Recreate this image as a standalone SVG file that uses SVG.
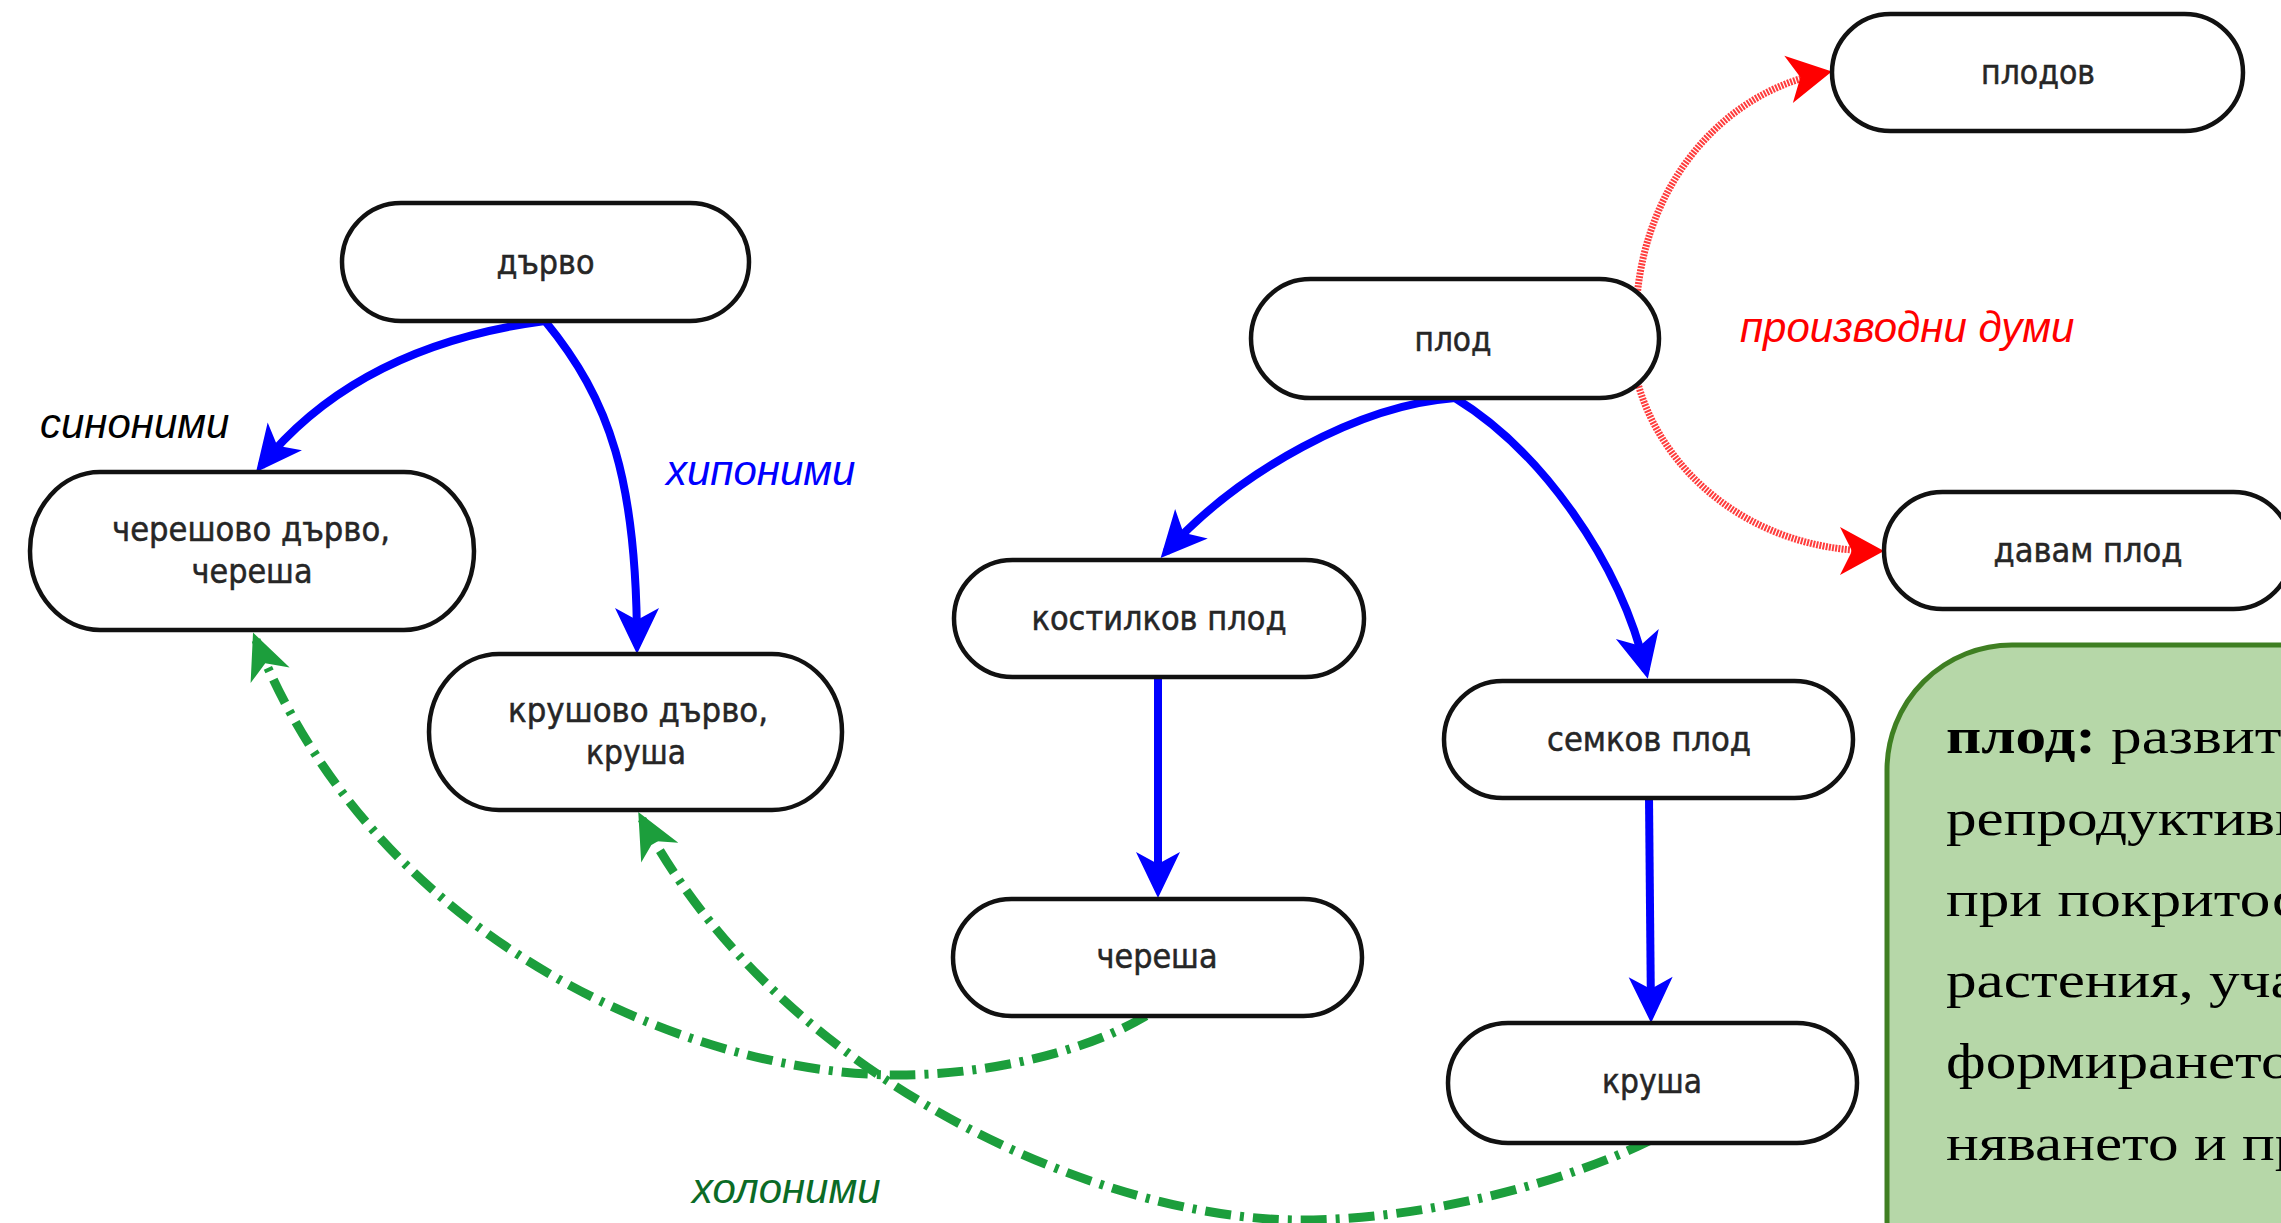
<svg xmlns="http://www.w3.org/2000/svg" width="2281" height="1223" viewBox="0 0 2281 1223">
<style>
.node rect{fill:#fff;stroke:#111;stroke-width:4.5}
.node text{font-family:"DejaVu Sans Condensed","DejaVu Sans",sans-serif;font-stretch:condensed;font-size:34px;fill:#262626;stroke:#262626;stroke-width:0.5;text-anchor:middle}
.blue{fill:none;stroke:#0000ff;stroke-width:8;marker-end:url(#mb)}
.red{fill:none;stroke:#ff3c3c;stroke-width:7;stroke-dasharray:2 1.2;marker-end:url(#mr)}
.green{fill:none;stroke:#1c9e3c;stroke-width:9;stroke-dasharray:26 9 4 9;marker-end:url(#mg)}
.lbl{font-family:"Liberation Sans",Arial,sans-serif;font-style:italic;font-size:42px}
.def{font-family:"Liberation Serif","Times New Roman",serif;font-size:51px;fill:#000}
</style>
<defs>
<marker id="mb" markerUnits="userSpaceOnUse" viewBox="-50 -30 60 60" markerWidth="60" markerHeight="60" refX="-8" refY="0" orient="auto"><path d="M0,0 L-46,-22 L-34,0 L-46,22 Z" fill="#0000ff"/></marker>
<marker id="mr" markerUnits="userSpaceOnUse" viewBox="-50 -30 60 60" markerWidth="60" markerHeight="60" refX="-8" refY="0" orient="auto"><path d="M0,0 L-44,-24 L-32,0 L-44,24 Z" fill="#ff0000"/></marker>
<marker id="mg" markerUnits="userSpaceOnUse" viewBox="-50 -30 60 60" markerWidth="60" markerHeight="60" refX="-8" refY="0" orient="auto"><path d="M0,0 L-46,-21 L-33,0 L-46,21 Z" fill="#1c9e3c"/></marker>
</defs>
<rect width="2281" height="1223" fill="#fff"/>

<g id="connectors">
<path class="blue" d="M545,321 C440,335 335,374 261,466"/>
<path class="blue" d="M545,321 C610,400 637,480 637,646"/>
<path class="blue" d="M1455,398 C1360,405 1240,470 1166,552"/>
<path class="blue" d="M1455,398 C1540,450 1620,560 1646,671"/>
<path class="blue" d="M1158,677 L1158,890"/>
<path class="blue" d="M1649,798 L1651,1015"/>
<path class="red" d="M1637,297 C1648,175 1730,90 1824,73"/>
<path class="red" d="M1637,380 C1660,470 1750,551 1876,551"/>
<path class="green" d="M1146,1016 C1080,1055 980,1075 898,1075 C700,1075 380,950 256,640"/>
<path class="green" d="M1651,1140 C1560,1185 1420,1220 1300,1220 C1100,1220 780,1080 642,819"/>
</g>

<g id="node-darvo" class="node"><rect x="342" y="203" width="407" height="118" rx="59"/><text x="545.5" y="274" textLength="98" lengthAdjust="spacingAndGlyphs">дърво</text></g>
<g id="node-chereshovo" class="node"><rect x="30" y="472" width="444" height="158" rx="70" ry="79"/><text x="251" y="541" textLength="278" lengthAdjust="spacingAndGlyphs">черешово дърво,</text><text x="252" y="583" textLength="121" lengthAdjust="spacingAndGlyphs">череша</text></g>
<g id="node-krushovo" class="node"><rect x="429" y="654" width="413" height="156" rx="70" ry="78"/><text x="638" y="722" textLength="260" lengthAdjust="spacingAndGlyphs">крушово дърво,</text><text x="636" y="764" textLength="100" lengthAdjust="spacingAndGlyphs">круша</text></g>
<g id="node-plod" class="node"><rect x="1251" y="279" width="408" height="119" rx="59.5"/><text x="1453" y="351" textLength="77" lengthAdjust="spacingAndGlyphs">плод</text></g>
<g id="node-kostilkov" class="node"><rect x="954" y="560" width="410" height="117" rx="58.5"/><text x="1159" y="630" textLength="255" lengthAdjust="spacingAndGlyphs">костилков плод</text></g>
<g id="node-semkov" class="node"><rect x="1444" y="681" width="409" height="117" rx="58.5"/><text x="1649" y="751" textLength="204" lengthAdjust="spacingAndGlyphs">семков плод</text></g>
<g id="node-cheresha" class="node"><rect x="953" y="899" width="409" height="117" rx="58.5"/><text x="1157" y="968" textLength="121" lengthAdjust="spacingAndGlyphs">череша</text></g>
<g id="node-krusha" class="node"><rect x="1448" y="1023" width="409" height="120" rx="60"/><text x="1652" y="1093" textLength="100" lengthAdjust="spacingAndGlyphs">круша</text></g>
<g id="node-plodov" class="node"><rect x="1832" y="14" width="411" height="117" rx="58.5"/><text x="2038" y="84" textLength="114" lengthAdjust="spacingAndGlyphs">плодов</text></g>
<g id="node-davam" class="node"><rect x="1884" y="492" width="408" height="117" rx="58.5"/><text x="2088" y="562" textLength="189" lengthAdjust="spacingAndGlyphs">давам плод</text></g>

<g id="labels">
<text class="lbl" x="40" y="438" fill="#000">синоними</text>
<text class="lbl" x="666" y="485" fill="#0000ff">хипоними</text>
<text class="lbl" x="1740" y="342" fill="#ff0000">производни думи</text>
<text class="lbl" x="692" y="1203" fill="#0b6b26">холоними</text>
</g>

<g id="definition">
<rect x="1887" y="645" width="600" height="700" rx="125" fill="#b6d7a8" stroke="#3f7f22" stroke-width="5"/>
<g transform="translate(1946 0) scale(1.2 1)">
<text class="def" x="0" y="753"><tspan font-weight="bold">плод:</tspan> развит</text>
<text class="def" x="0" y="835">репродуктивн</text>
<text class="def" x="0" y="916">при покритос</text>
<text class="def" x="0" y="997">растения, уча</text>
<text class="def" x="0" y="1078">формирането</text>
<text class="def" x="0" y="1160">няването и пр</text>
</g>
</g>
</svg>
